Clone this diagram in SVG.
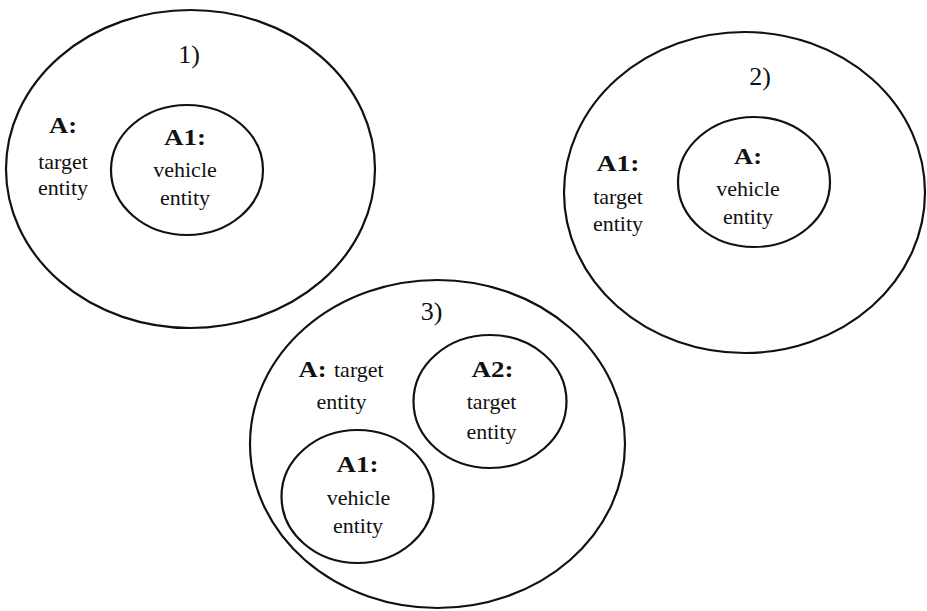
<svg xmlns="http://www.w3.org/2000/svg" width="927" height="611" viewBox="0 0 927 611">
<style>
.e{fill:none;stroke:#111;stroke-width:2.2}
.t{font-family:"Liberation Serif","Times New Roman",serif;font-size:22px;fill:#111;text-anchor:middle}
.b{font-weight:bold;font-size:24px}
.n{font-size:26px}
</style>
<rect width="927" height="611" fill="#fff"/>
<g id="set1">
<ellipse class="e" cx="190.5" cy="169" rx="184.5" ry="159"/>
<text class="t n" x="189" y="63">1)</text>
<text class="t b" x="63" y="133" textLength="28" lengthAdjust="spacingAndGlyphs">A:</text>
<text class="t" x="63" y="169">target</text>
<text class="t" x="63" y="195">entity</text>
</g>
<g id="set1-inner">
<ellipse class="e" cx="187" cy="170" rx="76" ry="65"/>
<text class="t b" x="185" y="145" textLength="42" lengthAdjust="spacingAndGlyphs">A1:</text>
<text class="t" x="185" y="177">vehicle</text>
<text class="t" x="185" y="205">entity</text>
</g>
<g id="set2">
<ellipse class="e" cx="744.5" cy="192.5" rx="180.5" ry="160.5"/>
<text class="t n" x="760" y="85">2)</text>
<text class="t b" x="618" y="171" textLength="43" lengthAdjust="spacingAndGlyphs">A1:</text>
<text class="t" x="618" y="204">target</text>
<text class="t" x="618" y="231">entity</text>
</g>
<g id="set2-inner">
<ellipse class="e" cx="754" cy="182" rx="76" ry="65"/>
<text class="t b" x="748" y="164" textLength="28" lengthAdjust="spacingAndGlyphs">A:</text>
<text class="t" x="748" y="196">vehicle</text>
<text class="t" x="748" y="224">entity</text>
</g>
<g id="set3">
<ellipse class="e" cx="437.5" cy="444" rx="187.5" ry="164"/>
<text class="t n" x="431.5" y="320">3)</text>
<text class="t" y="376.5" style="text-anchor:start"><tspan class="b" x="298.5" textLength="28" lengthAdjust="spacingAndGlyphs">A:</tspan><tspan x="334">target</tspan></text>
<text class="t" x="341.5" y="409">entity</text>
</g>
<g id="set3-A2">
<ellipse class="e" cx="490" cy="401.5" rx="76.5" ry="66.5"/>
<text class="t b" x="492.5" y="376.5" textLength="42" lengthAdjust="spacingAndGlyphs">A2:</text>
<text class="t" x="491.5" y="409">target</text>
<text class="t" x="491.5" y="438.5">entity</text>
</g>
<g id="set3-A1">
<ellipse class="e" cx="357.5" cy="496.5" rx="76" ry="66.5"/>
<text class="t b" x="357.5" y="472" textLength="42" lengthAdjust="spacingAndGlyphs">A1:</text>
<text class="t" x="358.5" y="504.5">vehicle</text>
<text class="t" x="358" y="533">entity</text>
</g>
<g id="connectors"></g>
</svg>
